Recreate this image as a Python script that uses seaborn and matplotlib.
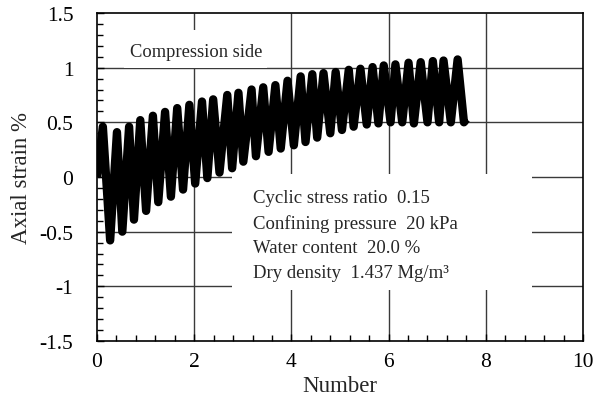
import matplotlib
matplotlib.use("Agg")
import matplotlib.pyplot as plt
from matplotlib.patches import Rectangle
from matplotlib.ticker import MultipleLocator
import seaborn as sns
import pandas as pd

# ---- data (centre of the thick stroke) ----
start_point = (0.0, 0.0)
end_point = (7.60, 0.53)

peak_number = [0.12, 0.41, 0.66, 0.89, 1.15, 1.40, 1.65, 1.90, 2.16, 2.39,
               2.68, 2.91, 3.18, 3.42, 3.67, 3.92, 4.19, 4.43, 4.66, 4.91,
               5.18, 5.42, 5.67, 5.90, 6.14, 6.41, 6.66, 6.91, 7.13, 7.42]
peak_strain = [0.46, 0.41, 0.46, 0.52, 0.56, 0.595, 0.63, 0.66, 0.69, 0.71,
               0.75, 0.77, 0.80, 0.82, 0.84, 0.88, 0.92, 0.94, 0.95, 0.96,
               0.98, 0.99, 1.005, 1.02, 1.03, 1.045, 1.05, 1.06, 1.065, 1.075]

trough_number = [0.27, 0.52, 0.76, 1.01, 1.26, 1.52, 1.77, 2.02, 2.27, 2.52,
                 2.78, 3.01, 3.27, 3.53, 3.78, 4.05, 4.29, 4.53, 4.80, 5.04,
                 5.28, 5.55, 5.79, 6.04, 6.28, 6.52, 6.80, 7.04, 7.28, 7.55]
trough_strain = [-0.58, -0.50, -0.39, -0.31, -0.23, -0.18, -0.115, -0.06, -0.01, 0.04,
                 0.08, 0.14, 0.19, 0.23, 0.26, 0.29, 0.32, 0.36, 0.40, 0.43,
                 0.46, 0.48, 0.49, 0.50, 0.50, 0.49, 0.50, 0.50, 0.50, 0.50]

x_ticks = [0, 2, 4, 6, 8, 10]
y_ticks = [-1.5, -1, -0.5, 0, 0.5, 1, 1.5]
y_tick_labels = ["-1.5", "-1", "-0.5", "0", "0.5", "1", "1.5"]

info_lines = ["Cyclic stress ratio  0.15",
              "Confining pressure  20 kPa",
              "Water content  20.0 %",
              "Dry density  1.437 Mg/m\u00b3"]

# build ordered sequence (start, peak, trough, peak, trough, ..., end)
xs = [start_point[0]]
ys = [start_point[1]]
for pn, ps, tn, ts in zip(peak_number, peak_strain, trough_number, trough_strain):
    xs += [pn, tn]
    ys += [ps, ts]
xs.append(end_point[0])
ys.append(end_point[1])
df = pd.DataFrame({"Number": xs, "Strain": ys})

sns.set_style("white")
plt.rcParams["font.family"] = ["Liberation Serif", "DejaVu Serif"]

fig = plt.figure(figsize=(5.96, 4.10), dpi=100)
ax = fig.add_axes([0.1628, 0.1659, 0.8154, 0.8])

# grid lines
for gx in [2, 4, 6, 8]:
    ax.axvline(gx, color="#3a3a3a", lw=1.0, zorder=0.5)
for gy in [-1, -0.5, 0, 0.5, 1]:
    ax.axhline(gy, color="#3a3a3a", lw=1.0, zorder=0.5)

# white text boxes (cover the grid)
ax.add_patch(Rectangle((0.55, 1.0), 2.95, 0.345, facecolor="white",
                       edgecolor="none", zorder=1))
ax.add_patch(Rectangle((2.77, -1.03), 6.18, 1.055, facecolor="white",
                       edgecolor="none", zorder=1))

sns.lineplot(data=df, x="Number", y="Strain", sort=False, estimator=None,
             color="black", linewidth=6.0, ax=ax, zorder=3)
for line in ax.get_lines():
    line.set_solid_joinstyle("round")
    line.set_solid_capstyle("butt")

ax.text(0.68, 1.15, "Compression side", fontsize=13.3, va="center", ha="left", zorder=4)
for i, t in enumerate(info_lines):
    ax.text(3.2, -0.19 - i * 0.227, t, fontsize=13.5, va="center", ha="left", zorder=4)

ax.set_xlim(0, 10)
ax.set_ylim(-1.5, 1.5)
ax.set_xticks(x_ticks)
ax.set_xticklabels([str(v) for v in x_ticks])
ax.set_yticks(y_ticks)
ax.set_yticklabels(y_tick_labels)
ax.xaxis.set_minor_locator(MultipleLocator(0.4))
ax.yaxis.set_minor_locator(MultipleLocator(0.1))
ax.tick_params(axis="both", which="both", direction="in", top=False, right=False,
               bottom=True, left=True, colors="black")
ax.tick_params(axis="both", which="major", length=5, width=1, labelsize=15.5)
ax.tick_params(axis="both", which="minor", length=4, width=1)
ax.tick_params(axis="x", which="major", pad=8)
ax.tick_params(axis="y", which="major", pad=17)

ax.set_xlabel("Number", fontsize=16.5, labelpad=3)
ax.set_ylabel("Axial strain %", fontsize=16.5, labelpad=5)

for s in ax.spines.values():
    s.set_visible(True)
    s.set_color("black")
    s.set_linewidth(1.2)

fig.savefig("out.png", dpi=100)
